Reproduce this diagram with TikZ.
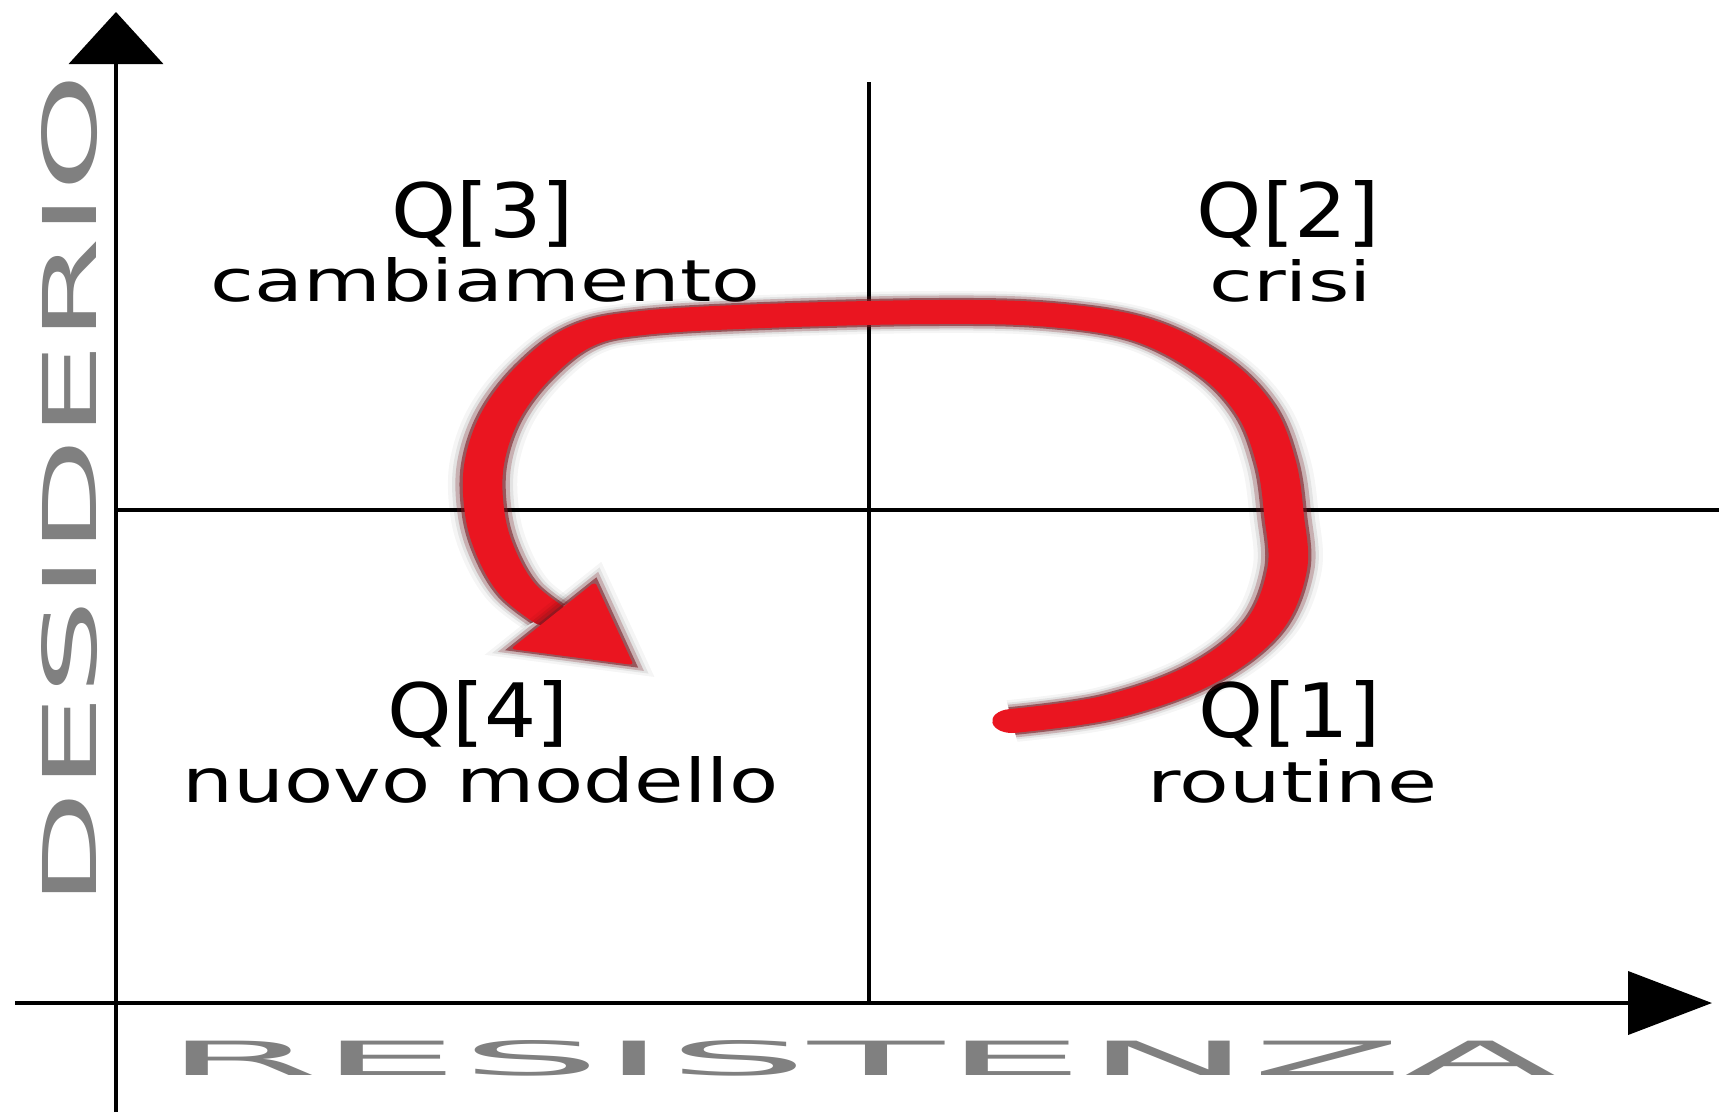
\documentclass[tikz,border=0pt]{standalone}
\usepackage{fontspec}
\setmainfont{DejaVu Sans}
\usepackage{graphicx}
\usetikzlibrary{arrows.meta}
\definecolor{arrowred}{HTML}{EA1520}
\definecolor{shadowred}{HTML}{7A1A22}
\definecolor{labelgray}{HTML}{808080}
\newcommand{\fitbox}[3]{\resizebox{#1pt}{#2pt}{#3}}
\begin{document}
\begin{tikzpicture}[x=1pt,y=-1pt,
  axis/.style={line width=4pt, draw=black},
  midline/.style={line width=3.2pt, draw=black},
  lbl/.style={inner sep=0pt, outer sep=0pt, text=black},
  axlbl/.style={inner sep=0pt, outer sep=0pt, text=labelgray},
  redstroke/.style={draw=arrowred, line width=24pt, line cap=round, line join=round,
    preaction={draw=black, draw opacity=0.04, line width=42pt},
    preaction={draw=black, draw opacity=0.07, line width=37pt},
    preaction={draw=shadowred, draw opacity=0.25, line width=33pt},
    preaction={draw=shadowred, draw opacity=0.6, line width=28pt}},
  redhead/.style={fill=arrowred, draw=arrowred, line width=3pt, line join=round,
    preaction={draw=black, draw opacity=0.04, line width=21pt},
    preaction={draw=black, draw opacity=0.07, line width=16pt},
    preaction={draw=shadowred, draw opacity=0.25, line width=12pt},
    preaction={draw=shadowred, draw opacity=0.6, line width=7pt}}]
\def\sx{1.65}
\fill[white] (0,0) rectangle (1719,1112);
\useasboundingbox (0,0) rectangle (1719,1112);

% axes
\coordinate (ybot) at (116,1112);
\coordinate (ytop) at (116,12);
\coordinate (xleft) at (15,1003);
\coordinate (xright) at (1712,1003);
\coordinate (vtop) at (869,82);
\coordinate (vbot) at (869,1005);
\coordinate (hleft) at (116,510);
\coordinate (hright) at (1719,510);

\draw[midline] (vtop) -- (vbot);
\draw[midline] (hleft) -- (hright);
\draw[axis, -{Triangle[length=52pt,width=94pt]}] (ybot) -- (ytop);
\draw[axis, -{Triangle[length=84pt,width=63pt]}] (xleft) -- (xright);

% axis labels
\node[axlbl, rotate=90] (ylab) at (69.5,490.5) {\fitbox{833}{55}{DESIDERIO}};
\node[axlbl] (xlab) at (860.5,1058.5) {\fitbox{1391}{35}{RESISTENZA}};

% quadrant labels
\node[lbl] (q3) at (483,213.5) {\fitbox{182}{57}{Q[3]}};
\node[lbl] (q3t) at (485.5,280) {\fitbox{549}{44}{cambiamento}};
\node[lbl] (q2) at (1288.5,213.5) {\fitbox{183}{57}{Q[2]}};
\node[lbl] (q2t) at (1290.5,281) {\fitbox{162}{42}{crisi}};
\node[lbl] (q4) at (478.5,713.5) {\fitbox{181}{57}{Q[4]}};
\node[lbl] (q4t) at (480.5,780) {\fitbox{595}{46}{nuovo modello}};
\node[lbl] (q1) at (1290,713.5) {\fitbox{182}{57}{Q[1]}};
\node[lbl] (q1t) at (1292.5,781.5) {\fitbox{289}{43}{routine}};

% red cycle arrow
\begin{scope}[transform canvas={xscale=\sx}]
\draw[redstroke] plot[smooth, tension=0.6] coordinates {
  ({1012/\sx},721) ({1110/\sx},707) ({1200/\sx},675) ({1262/\sx},628)
  ({1287/\sx},570) ({1284/\sx},515) ({1276/\sx},462) ({1255/\sx},410)
  ({1212/\sx},366) ({1142/\sx},330) ({1051/\sx},315) ({937/\sx},312)
  ({764/\sx},316) ({642/\sx},323) ({582/\sx},336) ({536/\sx},370)
  ({501/\sx},415) ({484/\sx},465) ({485/\sx},515) ({497/\sx},555)
  ({518/\sx},590) ({548/\sx},614)};
\filldraw[redhead] ({594/\sx},585) -- ({515/\sx},648) -- ({630/\sx},663) -- cycle;
\end{scope}
\end{tikzpicture}
\end{document}
